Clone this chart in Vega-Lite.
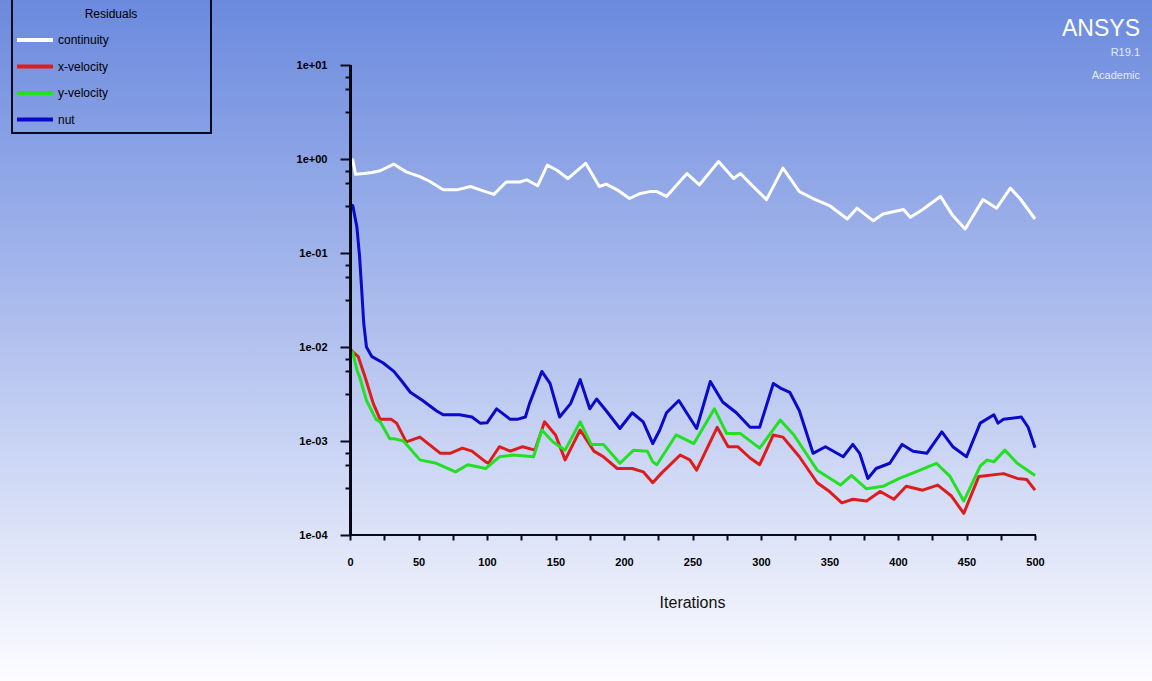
{
  "$schema": "https://vega.github.io/schema/vega-lite/v6.json",
  "width": 1152,
  "height": 681,
  "autosize": "none",
  "padding": 0,
  "background": "#ffffff",
  "title": {
    "text": "ANSYS",
    "subtitle": ["R19.1", "Academic"],
    "orient": "top",
    "anchor": "end",
    "frame": "group",
    "offset": -90,
    "dx": -12,
    "font": "Liberation Sans, Arial, sans-serif",
    "fontSize": 23,
    "fontWeight": "normal",
    "color": "#ffffff",
    "subtitleFont": "Liberation Sans, Arial, sans-serif",
    "subtitleFontSize": 11,
    "subtitleColor": "#e4e9f8",
    "subtitleLineHeight": 23,
    "subtitlePadding": 6
  },
  "config": {
    "view": {
      "stroke": null,
      "fill": {
        "gradient": "linear",
        "x1": 0, "y1": 0, "x2": 0, "y2": 1,
        "stops": [
          {"offset": 0, "color": "#6b8ade"},
          {"offset": 0.5, "color": "#b2c1ee"},
          {"offset": 1, "color": "#fdfdff"}
        ]
      }
    },
    "font": "Liberation Sans, Arial, sans-serif"
  },
  "data": {
    "values": [
      {"it": 0, "s": "continuity", "r": 1.0},
      {"it": 2, "s": "continuity", "r": 0.98},
      {"it": 4, "s": "continuity", "r": 0.69},
      {"it": 10, "s": "continuity", "r": 0.70},
      {"it": 16, "s": "continuity", "r": 0.72},
      {"it": 22, "s": "continuity", "r": 0.75},
      {"it": 32, "s": "continuity", "r": 0.88},
      {"it": 41, "s": "continuity", "r": 0.73},
      {"it": 51, "s": "continuity", "r": 0.65},
      {"it": 58, "s": "continuity", "r": 0.58},
      {"it": 68, "s": "continuity", "r": 0.47},
      {"it": 78, "s": "continuity", "r": 0.47},
      {"it": 88, "s": "continuity", "r": 0.51},
      {"it": 95, "s": "continuity", "r": 0.47},
      {"it": 105, "s": "continuity", "r": 0.42},
      {"it": 114, "s": "continuity", "r": 0.57},
      {"it": 124, "s": "continuity", "r": 0.57},
      {"it": 129, "s": "continuity", "r": 0.60},
      {"it": 137, "s": "continuity", "r": 0.52},
      {"it": 144, "s": "continuity", "r": 0.86},
      {"it": 151, "s": "continuity", "r": 0.76},
      {"it": 159, "s": "continuity", "r": 0.62},
      {"it": 172, "s": "continuity", "r": 0.90},
      {"it": 182, "s": "continuity", "r": 0.51},
      {"it": 187, "s": "continuity", "r": 0.54},
      {"it": 195, "s": "continuity", "r": 0.47},
      {"it": 204, "s": "continuity", "r": 0.38},
      {"it": 212, "s": "continuity", "r": 0.43},
      {"it": 219, "s": "continuity", "r": 0.45},
      {"it": 224, "s": "continuity", "r": 0.45},
      {"it": 231, "s": "continuity", "r": 0.40},
      {"it": 246, "s": "continuity", "r": 0.70},
      {"it": 255, "s": "continuity", "r": 0.53},
      {"it": 269, "s": "continuity", "r": 0.94},
      {"it": 280, "s": "continuity", "r": 0.62},
      {"it": 285, "s": "continuity", "r": 0.70},
      {"it": 292, "s": "continuity", "r": 0.55},
      {"it": 304, "s": "continuity", "r": 0.37},
      {"it": 316, "s": "continuity", "r": 0.80},
      {"it": 328, "s": "continuity", "r": 0.45},
      {"it": 338, "s": "continuity", "r": 0.38},
      {"it": 350, "s": "continuity", "r": 0.32},
      {"it": 363, "s": "continuity", "r": 0.23},
      {"it": 370, "s": "continuity", "r": 0.30},
      {"it": 382, "s": "continuity", "r": 0.22},
      {"it": 389, "s": "continuity", "r": 0.26},
      {"it": 404, "s": "continuity", "r": 0.29},
      {"it": 409, "s": "continuity", "r": 0.24},
      {"it": 418, "s": "continuity", "r": 0.29},
      {"it": 431, "s": "continuity", "r": 0.40},
      {"it": 440, "s": "continuity", "r": 0.25},
      {"it": 449, "s": "continuity", "r": 0.18},
      {"it": 462, "s": "continuity", "r": 0.37},
      {"it": 472, "s": "continuity", "r": 0.30},
      {"it": 482, "s": "continuity", "r": 0.49},
      {"it": 489, "s": "continuity", "r": 0.38},
      {"it": 500, "s": "continuity", "r": 0.23},

      {"it": 0, "s": "x-velocity", "r": 0.0095},
      {"it": 2, "s": "x-velocity", "r": 0.0089},
      {"it": 6, "s": "x-velocity", "r": 0.0079},
      {"it": 11, "s": "x-velocity", "r": 0.0048},
      {"it": 17, "s": "x-velocity", "r": 0.0025},
      {"it": 22, "s": "x-velocity", "r": 0.0017},
      {"it": 30, "s": "x-velocity", "r": 0.0017},
      {"it": 34, "s": "x-velocity", "r": 0.00155},
      {"it": 41, "s": "x-velocity", "r": 0.00098},
      {"it": 51, "s": "x-velocity", "r": 0.0011},
      {"it": 66, "s": "x-velocity", "r": 0.00074},
      {"it": 73, "s": "x-velocity", "r": 0.00074},
      {"it": 82, "s": "x-velocity", "r": 0.00084},
      {"it": 89, "s": "x-velocity", "r": 0.00078},
      {"it": 99, "s": "x-velocity", "r": 0.00060},
      {"it": 101, "s": "x-velocity", "r": 0.00058},
      {"it": 109, "s": "x-velocity", "r": 0.00087},
      {"it": 117, "s": "x-velocity", "r": 0.00078},
      {"it": 126, "s": "x-velocity", "r": 0.00087},
      {"it": 135, "s": "x-velocity", "r": 0.00080},
      {"it": 142, "s": "x-velocity", "r": 0.0016},
      {"it": 150, "s": "x-velocity", "r": 0.00116},
      {"it": 157, "s": "x-velocity", "r": 0.00063},
      {"it": 168, "s": "x-velocity", "r": 0.00131},
      {"it": 178, "s": "x-velocity", "r": 0.00078},
      {"it": 185, "s": "x-velocity", "r": 0.00068},
      {"it": 195, "s": "x-velocity", "r": 0.00051},
      {"it": 206, "s": "x-velocity", "r": 0.00051},
      {"it": 214, "s": "x-velocity", "r": 0.00047},
      {"it": 221, "s": "x-velocity", "r": 0.00036},
      {"it": 227, "s": "x-velocity", "r": 0.00045},
      {"it": 241, "s": "x-velocity", "r": 0.00071},
      {"it": 248, "s": "x-velocity", "r": 0.00063},
      {"it": 253, "s": "x-velocity", "r": 0.00049},
      {"it": 268, "s": "x-velocity", "r": 0.0014},
      {"it": 276, "s": "x-velocity", "r": 0.00087},
      {"it": 283, "s": "x-velocity", "r": 0.00087},
      {"it": 292, "s": "x-velocity", "r": 0.00066},
      {"it": 299, "s": "x-velocity", "r": 0.00056},
      {"it": 309, "s": "x-velocity", "r": 0.00116},
      {"it": 316, "s": "x-velocity", "r": 0.0011},
      {"it": 328, "s": "x-velocity", "r": 0.00068},
      {"it": 341, "s": "x-velocity", "r": 0.00036},
      {"it": 350, "s": "x-velocity", "r": 0.00029},
      {"it": 359, "s": "x-velocity", "r": 0.00022},
      {"it": 367, "s": "x-velocity", "r": 0.00024},
      {"it": 377, "s": "x-velocity", "r": 0.00023},
      {"it": 387, "s": "x-velocity", "r": 0.00029},
      {"it": 397, "s": "x-velocity", "r": 0.00024},
      {"it": 406, "s": "x-velocity", "r": 0.00033},
      {"it": 418, "s": "x-velocity", "r": 0.00030},
      {"it": 429, "s": "x-velocity", "r": 0.00034},
      {"it": 439, "s": "x-velocity", "r": 0.00026},
      {"it": 448, "s": "x-velocity", "r": 0.00017},
      {"it": 459, "s": "x-velocity", "r": 0.00042},
      {"it": 477, "s": "x-velocity", "r": 0.00045},
      {"it": 487, "s": "x-velocity", "r": 0.00040},
      {"it": 494, "s": "x-velocity", "r": 0.00039},
      {"it": 500, "s": "x-velocity", "r": 0.00030},

      {"it": 0, "s": "y-velocity", "r": 0.0092},
      {"it": 2, "s": "y-velocity", "r": 0.0087},
      {"it": 5, "s": "y-velocity", "r": 0.0057},
      {"it": 7, "s": "y-velocity", "r": 0.0048},
      {"it": 12, "s": "y-velocity", "r": 0.0027},
      {"it": 19, "s": "y-velocity", "r": 0.0017},
      {"it": 22, "s": "y-velocity", "r": 0.0016},
      {"it": 29, "s": "y-velocity", "r": 0.00106},
      {"it": 32, "s": "y-velocity", "r": 0.00106},
      {"it": 39, "s": "y-velocity", "r": 0.0010},
      {"it": 51, "s": "y-velocity", "r": 0.00063},
      {"it": 63, "s": "y-velocity", "r": 0.00058},
      {"it": 77, "s": "y-velocity", "r": 0.00047},
      {"it": 86, "s": "y-velocity", "r": 0.00056},
      {"it": 99, "s": "y-velocity", "r": 0.00051},
      {"it": 109, "s": "y-velocity", "r": 0.00068},
      {"it": 119, "s": "y-velocity", "r": 0.00071},
      {"it": 134, "s": "y-velocity", "r": 0.00068},
      {"it": 140, "s": "y-velocity", "r": 0.00131},
      {"it": 148, "s": "y-velocity", "r": 0.00098},
      {"it": 157, "s": "y-velocity", "r": 0.00080},
      {"it": 168, "s": "y-velocity", "r": 0.0016},
      {"it": 176, "s": "y-velocity", "r": 0.00092},
      {"it": 185, "s": "y-velocity", "r": 0.00092},
      {"it": 197, "s": "y-velocity", "r": 0.00058},
      {"it": 207, "s": "y-velocity", "r": 0.00080},
      {"it": 217, "s": "y-velocity", "r": 0.00078},
      {"it": 221, "s": "y-velocity", "r": 0.00060},
      {"it": 224, "s": "y-velocity", "r": 0.00056},
      {"it": 238, "s": "y-velocity", "r": 0.00116},
      {"it": 251, "s": "y-velocity", "r": 0.00094},
      {"it": 266, "s": "y-velocity", "r": 0.0022},
      {"it": 275, "s": "y-velocity", "r": 0.0012},
      {"it": 285, "s": "y-velocity", "r": 0.0012},
      {"it": 299, "s": "y-velocity", "r": 0.00084},
      {"it": 314, "s": "y-velocity", "r": 0.00167},
      {"it": 324, "s": "y-velocity", "r": 0.00116},
      {"it": 341, "s": "y-velocity", "r": 0.00049},
      {"it": 358, "s": "y-velocity", "r": 0.00034},
      {"it": 366, "s": "y-velocity", "r": 0.00043},
      {"it": 377, "s": "y-velocity", "r": 0.00031},
      {"it": 389, "s": "y-velocity", "r": 0.00033},
      {"it": 401, "s": "y-velocity", "r": 0.00040},
      {"it": 413, "s": "y-velocity", "r": 0.00047},
      {"it": 428, "s": "y-velocity", "r": 0.00058},
      {"it": 438, "s": "y-velocity", "r": 0.00042},
      {"it": 448, "s": "y-velocity", "r": 0.00023},
      {"it": 460, "s": "y-velocity", "r": 0.00054},
      {"it": 465, "s": "y-velocity", "r": 0.00063},
      {"it": 470, "s": "y-velocity", "r": 0.00060},
      {"it": 478, "s": "y-velocity", "r": 0.00080},
      {"it": 487, "s": "y-velocity", "r": 0.00058},
      {"it": 500, "s": "y-velocity", "r": 0.00043},

      {"it": 0, "s": "nut", "r": 0.33},
      {"it": 2, "s": "nut", "r": 0.32},
      {"it": 5, "s": "nut", "r": 0.19},
      {"it": 7, "s": "nut", "r": 0.091},
      {"it": 8.5, "s": "nut", "r": 0.041},
      {"it": 10, "s": "nut", "r": 0.018},
      {"it": 12, "s": "nut", "r": 0.010},
      {"it": 16, "s": "nut", "r": 0.0079},
      {"it": 24, "s": "nut", "r": 0.0068},
      {"it": 32, "s": "nut", "r": 0.0055},
      {"it": 38, "s": "nut", "r": 0.0043},
      {"it": 44, "s": "nut", "r": 0.0033},
      {"it": 53, "s": "nut", "r": 0.0027},
      {"it": 63, "s": "nut", "r": 0.0021},
      {"it": 68, "s": "nut", "r": 0.0019},
      {"it": 80, "s": "nut", "r": 0.0019},
      {"it": 89, "s": "nut", "r": 0.0018},
      {"it": 95, "s": "nut", "r": 0.00155},
      {"it": 100, "s": "nut", "r": 0.00156},
      {"it": 107, "s": "nut", "r": 0.0022},
      {"it": 117, "s": "nut", "r": 0.0017},
      {"it": 122, "s": "nut", "r": 0.0017},
      {"it": 128, "s": "nut", "r": 0.0018},
      {"it": 131, "s": "nut", "r": 0.0025},
      {"it": 140, "s": "nut", "r": 0.0055},
      {"it": 146, "s": "nut", "r": 0.0041},
      {"it": 153, "s": "nut", "r": 0.0018},
      {"it": 161, "s": "nut", "r": 0.0025},
      {"it": 168, "s": "nut", "r": 0.0045},
      {"it": 175, "s": "nut", "r": 0.0022},
      {"it": 180, "s": "nut", "r": 0.0028},
      {"it": 187, "s": "nut", "r": 0.0021},
      {"it": 197, "s": "nut", "r": 0.00136},
      {"it": 206, "s": "nut", "r": 0.0020},
      {"it": 214, "s": "nut", "r": 0.0016},
      {"it": 221, "s": "nut", "r": 0.00094},
      {"it": 226, "s": "nut", "r": 0.0013},
      {"it": 231, "s": "nut", "r": 0.0020},
      {"it": 240, "s": "nut", "r": 0.0027},
      {"it": 253, "s": "nut", "r": 0.00136},
      {"it": 263, "s": "nut", "r": 0.0043},
      {"it": 272, "s": "nut", "r": 0.0026},
      {"it": 282, "s": "nut", "r": 0.0020},
      {"it": 292, "s": "nut", "r": 0.0014},
      {"it": 299, "s": "nut", "r": 0.0014},
      {"it": 309, "s": "nut", "r": 0.0041},
      {"it": 315, "s": "nut", "r": 0.0036},
      {"it": 321, "s": "nut", "r": 0.0033},
      {"it": 328, "s": "nut", "r": 0.0021},
      {"it": 338, "s": "nut", "r": 0.00074},
      {"it": 347, "s": "nut", "r": 0.00087},
      {"it": 360, "s": "nut", "r": 0.00068},
      {"it": 367, "s": "nut", "r": 0.00092},
      {"it": 372, "s": "nut", "r": 0.00074},
      {"it": 378, "s": "nut", "r": 0.00040},
      {"it": 384, "s": "nut", "r": 0.00051},
      {"it": 394, "s": "nut", "r": 0.00058},
      {"it": 403, "s": "nut", "r": 0.00092},
      {"it": 411, "s": "nut", "r": 0.00078},
      {"it": 421, "s": "nut", "r": 0.00074},
      {"it": 432, "s": "nut", "r": 0.00125},
      {"it": 440, "s": "nut", "r": 0.00087},
      {"it": 450, "s": "nut", "r": 0.00068},
      {"it": 460, "s": "nut", "r": 0.00155},
      {"it": 470, "s": "nut", "r": 0.0019},
      {"it": 473, "s": "nut", "r": 0.00155},
      {"it": 477, "s": "nut", "r": 0.0017},
      {"it": 490, "s": "nut", "r": 0.0018},
      {"it": 495, "s": "nut", "r": 0.0014},
      {"it": 500, "s": "nut", "r": 0.00085}
    ]
  },
  "layer": [
    {
      "mark": {"type": "line", "strokeWidth": 3, "strokeJoin": "round"},
      "encoding": {
        "x": {
          "field": "it",
          "type": "quantitative",
          "scale": {"domain": [-255.5, 585.4], "nice": false, "zero": false},
          "axis": {
            "title": "Iterations",
            "orient": "bottom",
            "offset": -146,
            "domain": false,
            "grid": false,
            "values": [0, 25, 50, 75, 100, 125, 150, 175, 200, 225, 250, 275, 300, 325, 350, 375, 400, 425, 450, 475, 500],
            "labelExpr": "datum.value % 50 == 0 ? datum.label : ''",
            "format": "d",
            "tickSize": 5,
            "tickWidth": 2,
            "tickColor": "#0a0a1e",
            "labelPadding": 16,
            "labelFontSize": 11,
            "labelFontWeight": "bold",
            "labelColor": "#000000",
            "labelOverlap": false,
            "labelFlush": false,
            "titleX": 692,
            "titleY": 67,
            "titleAlign": "center",
            "titleBaseline": "middle",
            "titleFontSize": 16,
            "titleFontWeight": "normal",
            "titleColor": "#111111"
          }
        },
        "y": {
          "field": "r",
          "type": "quantitative",
          "scale": {"type": "log", "domain": [2.8e-6, 49.15], "nice": false},
          "axis": {
            "title": null,
            "orient": "left",
            "offset": -350,
            "domain": false,
            "grid": false,
            "values": [10, 7.4989, 5.6234, 3.1623, 1, 0.74989, 0.56234, 0.31623, 0.1, 0.074989, 0.056234, 0.031623, 0.01, 0.0074989, 0.0056234, 0.0031623, 0.001, 0.00074989, 0.00056234, 0.00031623, 0.0001],
            "labelExpr": "abs(log(datum.value)/LN10 - round(log(datum.value)/LN10)) < 0.01 ? (datum.value >= 1 ? '1e+0' : '1e-0') + abs(round(log(datum.value)/LN10)) : ''",
            "tickSize": {"condition": {"test": "abs(log(datum.value)/LN10 - round(log(datum.value)/LN10)) < 0.01", "value": 10}, "value": 5},
            "tickWidth": 2,
            "tickColor": "#0a0a1e",
            "labelPadding": 13,
            "labelFontSize": 11,
            "labelFontWeight": "bold",
            "labelColor": "#000000",
            "labelOverlap": false
          }
        },
        "color": {
          "field": "s",
          "type": "nominal",
          "scale": {
            "domain": ["continuity", "x-velocity", "y-velocity", "nut"],
            "range": ["#ffffff", "#dd1c1c", "#22e022", "#0a0ac8"]
          },
          "legend": {
            "orient": "none",
            "legendX": 12,
            "legendY": -8,
            "title": ["", "Residuals"],
            "titleAnchor": "middle",
            "titleFontSize": 12,
            "titleFontWeight": "normal",
            "titleColor": "#000000",
            "titleLineHeight": 14,
            "titlePadding": 9,
            "padding": 3,
            "strokeColor": "#0a0a1e",
            "symbolType": "stroke",
            "symbolSize": 1296,
            "symbolStrokeWidth": 4,
            "symbolOpacity": 1,
            "clipHeight": 20,
            "rowPadding": 6.5,
            "labelOffset": 3,
            "labelFontSize": 12,
            "labelLimit": 400,
            "labelColor": "#000000",
            "labelExpr": "datum.label + '\u2800\u2800\u2800\u2800\u2800\u2800\u2800\u2800\u2800\u2800\u2800'",
            "encode": {"legend": {"update": {"strokeWidth": {"value": 2}}}}
          }
        }
      }
    },
    {
      "mark": {"type": "rule", "color": "#0a0a1e", "strokeWidth": 2},
      "encoding": {
        "x": {"datum": 0, "type": "quantitative"},
        "y": {"datum": 0.0001, "type": "quantitative"},
        "y2": {"datum": 10}
      }
    },
    {
      "mark": {"type": "rule", "color": "#0a0a1e", "strokeWidth": 2},
      "encoding": {
        "x": {"datum": 0, "type": "quantitative"},
        "x2": {"datum": 500},
        "y": {"datum": 0.0001, "type": "quantitative"}
      }
    }
  ]
}
